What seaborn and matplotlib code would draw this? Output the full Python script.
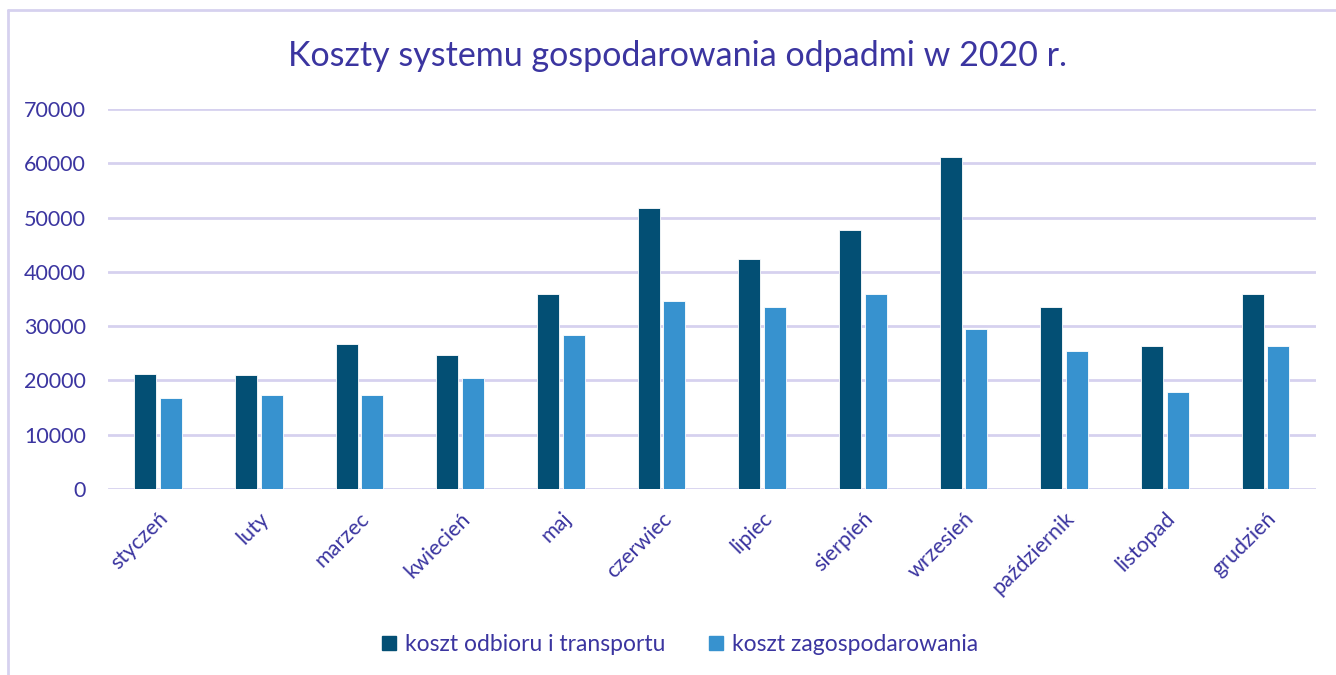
import pandas as pd
import numpy as np
import seaborn as sns
import matplotlib.pyplot as plt
from matplotlib.lines import Line2D

months = ['styczeń', 'luty', 'marzec', 'kwiecień', 'maj', 'czerwiec', 'lipiec',
          'sierpień', 'wrzesień', 'październik', 'listopad', 'grudzień']
transport = [21200, 21000, 26800, 24600, 35900, 51800, 42450, 47700, 61100, 33600, 26400, 35900]
disposal = [16700, 17300, 17300, 20450, 28300, 34700, 33500, 35900, 29400, 25400, 17800, 26300]
series = ['koszt odbioru i transportu', 'koszt zagospodarowania']
yticks = [0, 10000, 20000, 30000, 40000, 50000, 60000, 70000]

df = pd.DataFrame({'miesiac': months * 2,
                   'koszt': transport + disposal,
                   'seria': [series[0]] * 12 + [series[1]] * 12})

TXT = '#3b35a0'
GRID = '#d6d1ef'
COLORS = ['#034f74', '#3792cf']

sns.set_style('white')
plt.rcParams['font.family'] = ['Lato', 'DejaVu Sans']

fig = plt.figure(figsize=(13.36, 6.75), dpi=100)
ax = fig.add_axes([0.0808, 0.2756, 0.904, 0.5629])

sns.barplot(data=df, x='miesiac', y='koszt', hue='seria', order=months, hue_order=series,
            palette=COLORS, saturation=1, width=0.51, gap=0.14, ax=ax,
            edgecolor='white', linewidth=0.6, legend=False)

ax.set_ylim(0, 70000)
ax.set_yticks(yticks)
ax.set_yticklabels([str(v) for v in yticks])
ax.yaxis.grid(True, color=GRID, linewidth=2)
ax.set_axisbelow(True)
for s in ax.spines.values():
    s.set_visible(False)
ax.set_xlabel('')
ax.set_ylabel('')
ax.tick_params(axis='y', length=0, pad=16, labelsize=15.5, labelcolor=TXT)
ax.tick_params(axis='x', length=0, pad=14, labelsize=15.5, labelcolor=TXT)
for lbl in ax.get_xticklabels():
    lbl.set_rotation(45)
    lbl.set_ha('right')
    lbl.set_va('top')
    lbl.set_rotation_mode('anchor')
ax.set_xlim(-0.5, 11.5)

handles = [plt.Rectangle((0, 0), 1, 1, color=c) for c in COLORS]
fig.legend(handles=handles, labels=series, loc='center', bbox_to_anchor=(0.509, 0.045), ncol=2,
           frameon=False, fontsize=16.5, labelcolor=TXT, handlelength=0.6, handleheight=0.6,
           handletextpad=0.4, columnspacing=1.9)

fig.text(0.507, 0.917, 'Koszty systemu gospodarowania odpadmi w 2020 r.', ha='center', va='center',
         fontsize=24.5, color=TXT)

# chart frame (left and top edges)
fig.add_artist(Line2D([7.5 / 1336, 7.5 / 1336], [0, 1 - 9.5 / 675], color=GRID, linewidth=2,
                      transform=fig.transFigure))
fig.add_artist(Line2D([7.5 / 1336, 1], [1 - 9.5 / 675, 1 - 9.5 / 675], color=GRID, linewidth=2,
                      transform=fig.transFigure))

fig.savefig('out.png', dpi=100, facecolor='white')
